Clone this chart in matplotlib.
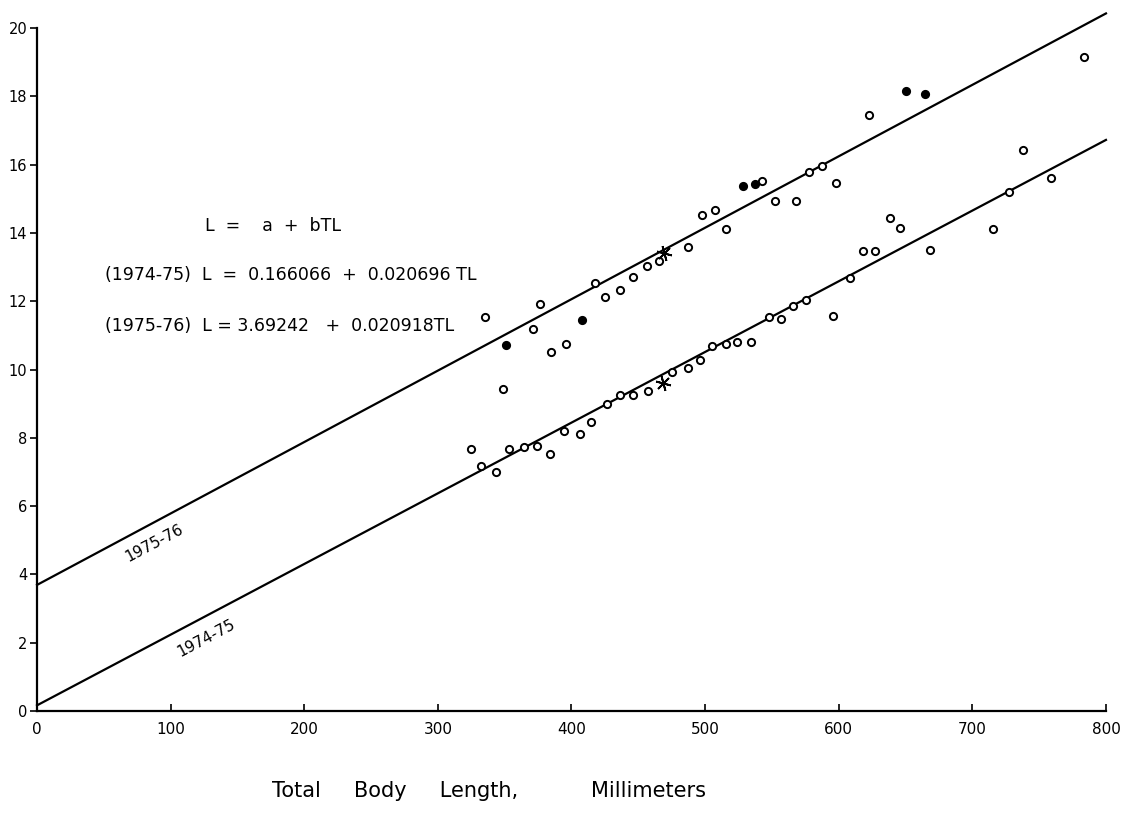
import matplotlib
matplotlib.use("Agg")
import matplotlib.pyplot as plt
import numpy as np

# Regression coefficients (L = a + b*TL)
coef_7475 = (0.166066, 0.020696)
coef_7576 = (3.69242, 0.020918)

# 1975-76 observations (total length mm, L)
tl_7576_open = [335, 376.5, 371.5, 385, 395.7, 349, 417.7, 424.9, 436.1, 445.9,
                456.6, 465.6, 487.3, 497.5, 507.7, 515.7, 542.9, 552.4, 567.9,
                577.6, 587.6, 597.8, 622.3, 783.2]
l_7576_open = [11.53, 11.92, 11.18, 10.52, 10.75, 9.43, 12.54, 12.13, 12.34, 12.71,
               13.03, 13.18, 13.6, 14.52, 14.67, 14.12, 15.53, 14.94, 14.94,
               15.79, 15.96, 15.45, 17.45, 19.14]
tl_7576_filled = [350.8, 407.7, 528.7, 537.4, 650.4, 664.7]
l_7576_filled = [10.72, 11.45, 15.37, 15.43, 18.16, 18.06]

# 1974-75 observations
tl_7475 = [324.9, 332.6, 343.8, 353.5, 364.8, 374.3, 384, 394.7, 406.4, 414.7,
           426.9, 436.4, 446.3, 457.1, 475, 487.5, 496.3, 505, 515.5, 523.7,
           534.4, 548, 556.6, 565.4, 575.6, 595.6, 608.3, 618.5, 627.2, 638.5,
           646, 668.6, 715.8, 727.5, 738, 759]
l_7475 = [7.66, 7.17, 7.0, 7.66, 7.72, 7.76, 7.53, 8.21, 8.11, 8.46,
          9.0, 9.24, 9.24, 9.37, 9.93, 10.03, 10.29, 10.69, 10.75, 10.82,
          10.81, 11.54, 11.47, 11.86, 12.04, 11.57, 12.67, 13.47, 13.47, 14.45,
          14.15, 13.5, 14.11, 15.21, 16.44, 15.61]

# Sample means
mean_7576 = (469.6, 13.42)
mean_7475 = (468.8, 9.61)

x_ticks = [0, 100, 200, 300, 400, 500, 600, 700, 800]
y_ticks = [0, 2, 4, 6, 8, 10, 12, 14, 16, 18, 20]

fig = plt.figure(figsize=(11.29, 8.31), dpi=100)
ax = fig.add_axes([0.0328, 0.1444, 0.9468, 0.8219])
ax.set_xlim(0, 800)
ax.set_ylim(0, 20)

xs = np.array([0, 800])
for a, b in (coef_7475, coef_7576):
    ax.plot(xs, a + b * xs, color="black", lw=1.6, clip_on=False, zorder=2)

mk = dict(linestyle="none", marker="o", markersize=5.2, markeredgewidth=1.4,
          markeredgecolor="black", zorder=3)
ax.plot(tl_7576_open, l_7576_open, markerfacecolor="white", **mk)
ax.plot(tl_7475, l_7475, markerfacecolor="white", **mk)
ax.plot(tl_7576_filled, l_7576_filled, markerfacecolor="black", **mk)
for m in (mean_7576, mean_7475):
    ax.plot(*m, marker=(6, 2, 15), markersize=11, markeredgewidth=1.3,
            color="black", zorder=4)

# Line labels
ax.text(88, 4.92, "1975-76", rotation=28, ha="center", va="center", fontsize=11)
ax.text(126.5, 2.14, "1974-75", rotation=28, ha="center", va="center", fontsize=11)

# Equations
eq_fs = 12.5
ax.text(125.5, 14.2, "L  =    a  +  bTL", fontsize=eq_fs, va="center")
ax.text(51, 12.77, "(1974-75)  L  =  0.166066  +  0.020696 TL", fontsize=eq_fs, va="center")
ax.text(51, 11.27, "(1975-76)  L = 3.69242   +  0.020918TL", fontsize=eq_fs, va="center")

for s in ("top", "right"):
    ax.spines[s].set_visible(False)
for s in ("left", "bottom"):
    ax.spines[s].set_linewidth(1.6)

ax.set_xticks(x_ticks)
ax.set_yticks(y_ticks)
ax.tick_params(axis="x", direction="in", length=5, width=1.2, labelsize=11, pad=8)
ax.tick_params(axis="y", direction="out", length=5, width=1.2, labelsize=10.5, pad=2)

ax.set_xlabel("Total     Body     Length,           Millimeters", fontsize=15)
ax.xaxis.set_label_coords(0.423, -0.102)

fig.savefig("out.png", dpi=100, facecolor="white")
